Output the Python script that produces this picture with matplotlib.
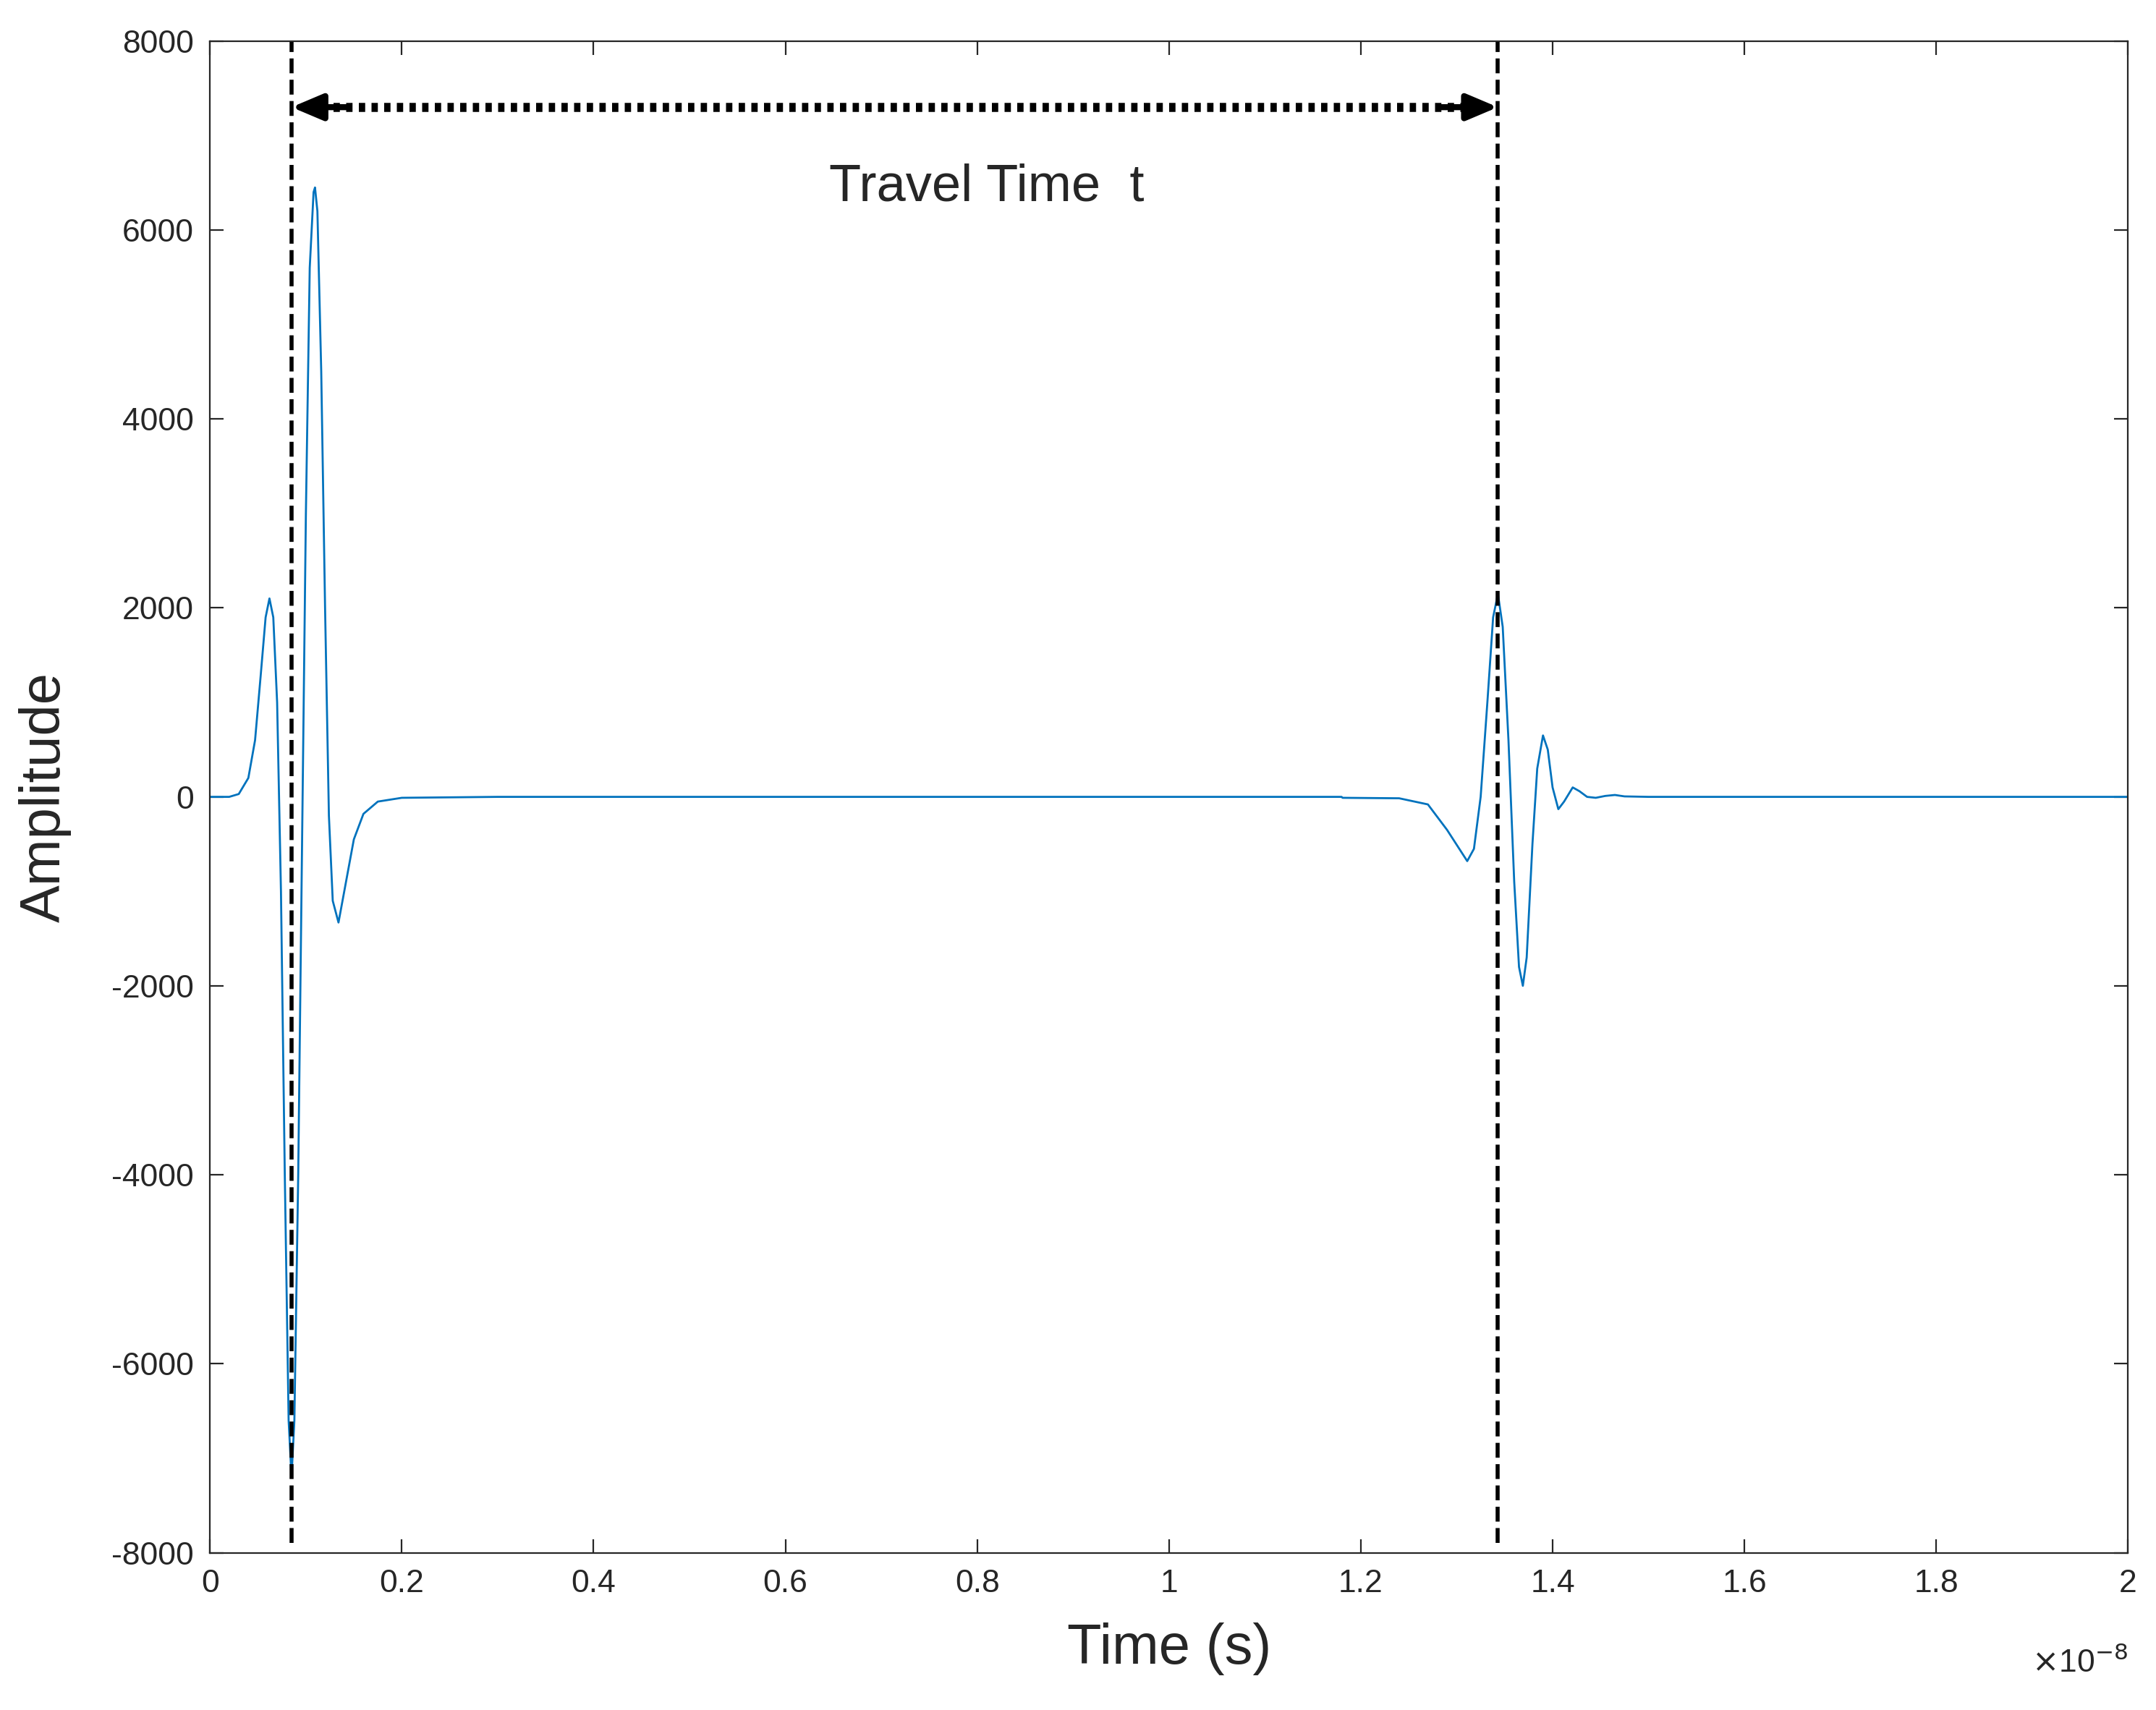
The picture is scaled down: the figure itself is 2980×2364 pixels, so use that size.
import matplotlib
matplotlib.use("Agg")
import matplotlib.pyplot as plt
import numpy as np

plt.rcParams['font.family'] = ['Arial', 'Liberation Sans', 'DejaVu Sans']
plt.rcParams['axes.unicode_minus'] = False

# time in units of 1e-8 s, amplitude
t_vals = [0, 0.02, 0.03, 0.04, 0.047, 0.053, 0.058, 0.062, 0.066, 0.070, 0.074, 0.078, 0.082, 0.085,
          0.088, 0.092, 0.096, 0.100, 0.104, 0.108, 0.1095, 0.112, 0.116, 0.120, 0.124, 0.128, 0.134,
          0.140, 0.150, 0.160, 0.175, 0.2, 0.3, 1.18, 1.181, 1.24, 1.27, 1.29, 1.311, 1.318, 1.325,
          1.332, 1.338, 1.343, 1.348, 1.354, 1.360, 1.365, 1.369, 1.373, 1.379, 1.384, 1.390, 1.395,
          1.400, 1.406, 1.412, 1.421, 1.428, 1.436, 1.445, 1.455, 1.465, 1.475, 1.5, 2.0]
amp_vals = [0, 0, 30, 200, 600, 1300, 1900, 2100, 1900, 1000, -1000, -4000, -6600, -7200,
            -6600, -4000, -500, 3000, 5600, 6400, 6450, 6200, 4500, 2000, -200, -1100, -1330,
            -1000, -450, -180, -50, -10, 0, 0, -10, -15, -80, -350, -680, -550, 0,
            1000, 1900, 2150, 1800, 600, -900, -1800, -2000, -1700, -500, 300, 650, 500,
            100, -130, -50, 100, 60, 0, -10, 10, 20, 5, 0, 0]
marker_times = [0.085, 1.343]
arrow_y = 7300
x_ticks = [0, 0.2, 0.4, 0.6, 0.8, 1, 1.2, 1.4, 1.6, 1.8, 2]
y_ticks = [-8000, -6000, -4000, -2000, 0, 2000, 4000, 6000, 8000]

fig = plt.figure(figsize=(14.9, 11.82), dpi=200)
ax = fig.add_axes([0.0974, 0.092, 0.8896, 0.884])
ax.plot(t_vals, amp_vals, color='#0072BD', lw=1.0)
for mt in marker_times:
    ax.plot([mt, mt], [-7900, 8000], color='black', ls='--', lw=2)
ax.plot([marker_times[0] + 0.03, marker_times[1] - 0.03], [arrow_y, arrow_y],
        color='black', lw=4.5, ls=(0, (0.7, 0.7)))
for a, b in [(marker_times[0], marker_times[0] + 0.06), (marker_times[1], marker_times[1] - 0.06)]:
    ax.annotate('', xy=(a, arrow_y), xytext=(b, arrow_y),
                arrowprops=dict(arrowstyle='-|>,head_length=1.3,head_width=0.55', lw=3,
                                color='black', shrinkA=0, shrinkB=0))
ax.text(0.81, 6450, 'Travel Time  t', fontsize=26, ha='center', va='center', color='#262626')
ax.set_xlim(0, 2)
ax.set_ylim(-8000, 8000)
ax.set_xticks(x_ticks)
ax.set_xticklabels([f'{v:g}' for v in x_ticks])
ax.set_yticks(y_ticks)
ax.tick_params(labelsize=16, direction='in', length=7, top=True, right=True, color='#262626',
               labelcolor='#262626', pad=8)
for s in ax.spines.values():
    s.set_color('#262626')
ax.set_xlabel('Time (s)', fontsize=28, color='#262626', labelpad=12)
ax.set_ylabel('Amplitude', fontsize=28, color='#262626', labelpad=20)
ax.text(1.0, -0.062, r'$\times$10$^{-8}$', transform=ax.transAxes, fontsize=16, ha='right', va='top',
        color='#262626')
fig.savefig('out.png', dpi=200)
